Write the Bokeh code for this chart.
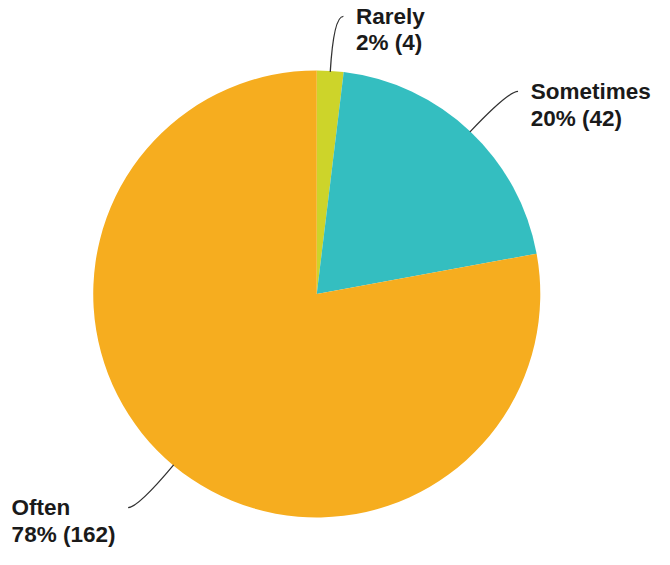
import numpy as np
from bokeh.plotting import figure
from bokeh.models import Range1d, ColumnDataSource
from bokeh.core.properties import value
from bokeh.embed import file_html
from bokeh.resources import INLINE

# ---- data ----
categories = ["Rarely", "Sometimes", "Often"]
counts = [4, 42, 162]
percents = [2, 20, 78]
colors = ["#cdd42a", "#34bec0", "#f6ad1f"]

# ---- layout (pixel-like data units) ----
W, H = 654, 549
p = figure(width=W, height=H, x_range=Range1d(0, 670), y_range=Range1d(0, 565),
           output_backend="svg", toolbar_location=None, min_border=0)
p.axis.visible = False
p.grid.visible = False
p.outline_line_color = None
p.background_fill_color = "white"

cx, cy = 324, 565 - 302
R = 229

c = np.array(counts, dtype=float)
frac = c / c.sum()
cum = np.cumsum(frac)
prev = cum - frac
starts = np.pi / 2 - 2 * np.pi * prev
ends = np.pi / 2 - 2 * np.pi * cum

p.wedge(x=cx, y=cy, radius=R, start_angle=starts, end_angle=ends,
        direction="clock", fill_color=colors, line_color=None)

mid = (starts + ends) / 2
side = np.sign(np.cos(mid))
x0 = cx + R * np.cos(mid)
y0 = cy + R * np.sin(mid)
xe = cx + 1.25 * R * np.cos(mid)
ye = cy + 1.25 * R * np.sin(mid)
x1 = xe + side * 10
y1 = ye

p.quadratic(x0=x0, y0=y0, x1=x1, y1=y1, cx=xe, cy=ye,
            line_color="#333333", line_width=1.3)

labels = [f"{cat}\n{pc}% ({n})" for cat, pc, n in zip(categories, percents, counts)]
tx = x1 + side * 13
ty = y1 + 12.5

for s, anc in ((1, "top_left"), (-1, "top_right")):
    m = side == s
    src = ColumnDataSource(dict(x=tx[m], y=ty[m], t=[l for l, k in zip(labels, m) if k]))
    p.text(x="x", y="y", text="t", source=src, anchor=anc, text_align="left",
           text_font=value("Liberation Sans"), text_font_style="bold",
           text_font_size="22.5px", text_line_height=1.05, text_color="#1a1a1a")

open("out.html", "w").write(file_html(p, INLINE))
